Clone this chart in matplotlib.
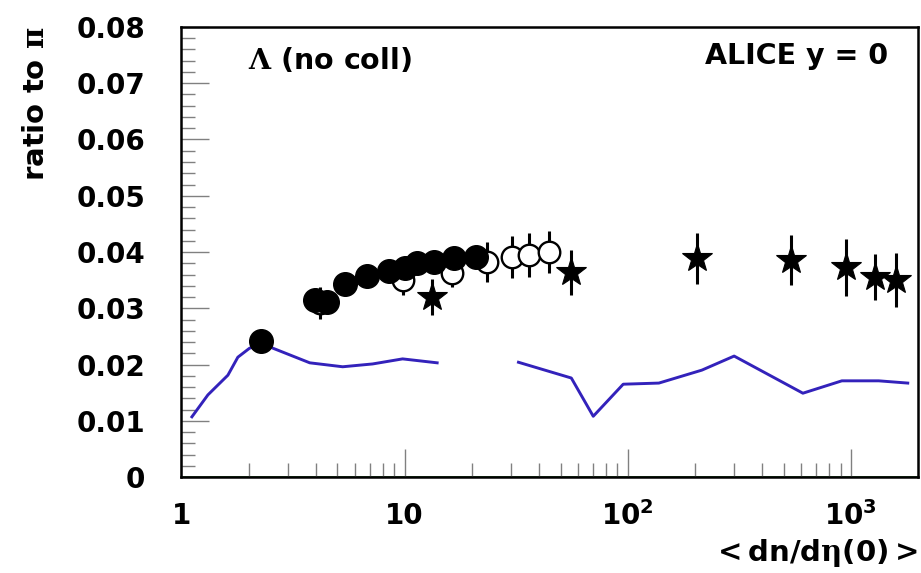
import numpy as np
import matplotlib
matplotlib.use("Agg")
import matplotlib.pyplot as plt
from matplotlib.ticker import FixedLocator, NullFormatter, FixedFormatter

plt.rcParams['font.family'] = ['DejaVu Sans']
plt.rcParams['font.weight'] = 'bold'
plt.rcParams['mathtext.fontset'] = 'custom'
plt.rcParams['mathtext.rm'] = 'DejaVu Serif'
plt.rcParams['mathtext.bf'] = 'DejaVu Sans:bold'
plt.rcParams['mathtext.default'] = 'rm'

# Lambda / pi ratio vs. charged-particle multiplicity
filled_x = [2.27, 3.96, 4.48, 5.39, 6.76, 8.48, 10.0, 11.4, 13.5, 16.7, 21.0]
filled_y = [0.0242, 0.0315, 0.0311, 0.0343, 0.0357, 0.0366, 0.0372, 0.0380, 0.0382, 0.0389, 0.0391]

open_x = [4.17, 9.8, 16.4, 23.3, 30.4, 36.3, 44.5]
open_y = [0.0309, 0.0350, 0.0363, 0.0382, 0.0391, 0.0395, 0.0400]
open_err = [0.0028, 0.0027, 0.0025, 0.0036, 0.0038, 0.0039, 0.0038]

star_x = [13.3, 55.9, 205, 539, 956, 1279, 1589]
star_y = [0.0320, 0.0364, 0.0389, 0.0386, 0.0373, 0.0356, 0.0350]
star_err = [0.0032, 0.0040, 0.0045, 0.0044, 0.0051, 0.0041, 0.0048]

# model curve (no collisions); NaN splits the curve
model_x = [1.114, 1.314, 1.615, 1.79, 2.02, 2.36, 2.57, 3.76, 5.28, 7.19, 9.8, 14.0,
           np.nan, 32.4, 55.9, 70.1, 95.5, 138, 215, 300, 610, 912, 1334, 1800]
model_y = [0.0107, 0.0146, 0.0181, 0.0213, 0.0229, 0.0238, 0.0229, 0.0203, 0.0196, 0.0201,
           0.0210, 0.0203, np.nan, 0.0204, 0.0176, 0.0108, 0.0165, 0.0167, 0.0190, 0.0215,
           0.0149, 0.0171, 0.0171, 0.0167]

xticks = [1, 10, 100, 1000]
xticklabels = ['1', '10', r'$\mathbf{10}^{\mathbf{2}}$', r'$\mathbf{10}^{\mathbf{3}}$']
yticks = [0, 0.01, 0.02, 0.03, 0.04, 0.05, 0.06, 0.07, 0.08]
yticklabels = ['0', '0.01', '0.02', '0.03', '0.04', '0.05', '0.06', '0.07', '0.08']

fig = plt.figure(figsize=(9.21, 5.73), dpi=100)
ax = fig.add_axes([0.197, 0.1675, 0.7997, 0.7854])

ax.set_xscale('log')
ax.set_xlim(1, 2000)
ax.set_ylim(0, 0.08)

ax.axhline(0, color='#1f5f1f', lw=2.0, zorder=1)

ax.plot(model_x, model_y, color='#3322bb', lw=2.1, zorder=2)

ax.errorbar(open_x, open_y, yerr=open_err, fmt='o', ms=15.5, mfc='white', mec='black',
            mew=1.7, ecolor='black', elinewidth=2.2, capsize=0, zorder=3)
ax.errorbar(star_x, star_y, yerr=star_err, fmt='*', ms=22, mfc='black', mec='black',
            mew=0.8, ecolor='black', elinewidth=2.2, capsize=0, zorder=4)
ax.plot(filled_x, filled_y, 'o', ms=17, color='black', zorder=5)

for s in ax.spines.values():
    s.set_linewidth(1.8)
    s.set_color('black')

ax.xaxis.set_major_locator(FixedLocator(xticks))
ax.xaxis.set_major_formatter(FixedFormatter(xticklabels))
minor_x = [m * d for d in (1, 10, 100) for m in range(2, 10)]
ax.xaxis.set_minor_locator(FixedLocator(minor_x))
ax.xaxis.set_minor_formatter(NullFormatter())

ax.yaxis.set_major_locator(FixedLocator(yticks))
ax.yaxis.set_major_formatter(FixedFormatter(yticklabels))
ax.yaxis.set_minor_locator(FixedLocator(np.arange(0, 0.0801, 0.002)))

ax.tick_params(which='both', direction='in', color='#808080', width=1.0,
               top=False, right=False)
ax.tick_params(which='major', length=20)
ax.tick_params(which='minor', length=10)
ax.tick_params(axis='y', which='major', pad=26, labelsize=20)
ax.tick_params(axis='x', which='major', pad=18, labelsize=20)
for lab in ax.get_xticklabels() + ax.get_yticklabels():
    lab.set_fontweight('bold')

ax.set_ylabel(r'ratio to $\pi$', fontsize=21, fontweight='bold', loc='top', labelpad=19)
ax.set_xlabel(r'$<$dn/d$\eta$(0)$>$', fontsize=21, fontweight='bold', loc='right', labelpad=4)

ax.text(0.09, 0.925, r'$\Lambda$ (no coll)', transform=ax.transAxes, fontsize=20.5,
        fontweight='bold', va='center', ha='left')
ax.text(0.96, 0.935, 'ALICE y = 0', transform=ax.transAxes, fontsize=20.5,
        fontweight='bold', va='center', ha='right')

fig.savefig('out.png', dpi=100)
